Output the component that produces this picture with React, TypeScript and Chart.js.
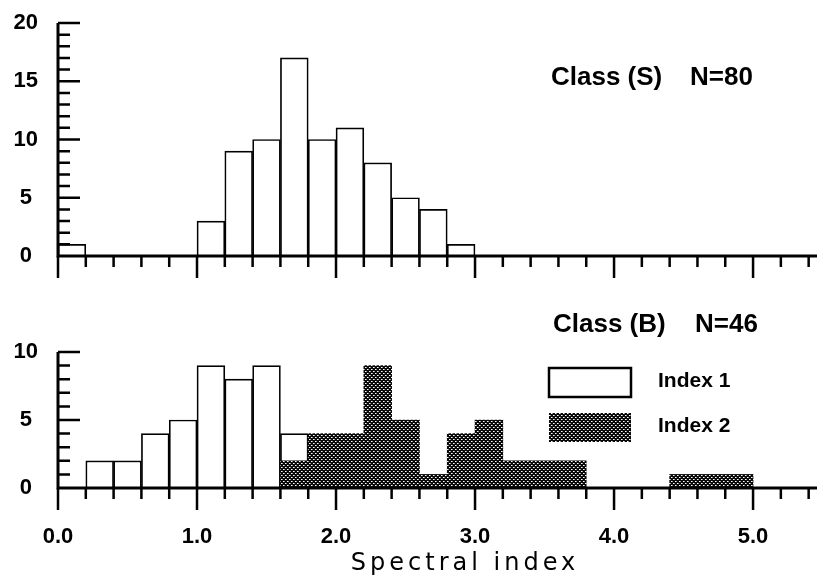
import React, { useEffect, useRef } from 'react';
import { Chart, registerables } from 'chart.js';

Chart.register(...registerables);

// ---- data ----
const binCenters = [0.1, 0.3, 0.5, 0.7, 0.9, 1.1, 1.3, 1.5, 1.7, 1.9, 2.1, 2.3, 2.5, 2.7, 2.9, 3.1, 3.3, 3.5, 3.7, 3.9, 4.1, 4.3, 4.5, 4.7, 4.9, 5.1, 5.3];
const classSCounts = [1, 0, 0, 0, 0, 3, 9, 10, 17, 10, 11, 8, 5, 4, 1, 0, 0, 0, 0, 0, 0, 0, 0, 0, 0, 0, 0];
const classBIndex1 = [0, 2, 2, 4, 5, 9, 8, 9, 4, 0, 0, 0, 0, 0, 0, 0, 0, 0, 0, 0, 0, 0, 0, 0, 0, 0, 0];
const classBIndex2 = [0, 0, 0, 0, 0, 0, 0, 0, 2, 4, 4, 9, 5, 1, 4, 5, 2, 2, 2, 0, 0, 0, 1, 1, 1, 0, 0];
const xTickLabels = ['0.0', '1.0', '2.0', '3.0', '4.0', '5.0'];
const seriesLabels = ['Index 1', 'Index 2'];
const panelTextS = ['Class (S)', 'N=80'];
const panelTextB = ['Class (B)', 'N=46'];
const axisTitle = 'Spectral index';
const xAxisMax = 5.46;
const yMaxTop = 20;
const yMaxBottom = 10;

const tickFont = { family: '"Liberation Sans", Arial, sans-serif', weight: 'bold' as const, size: 22 };
const classFont = 'bold 26px "Liberation Sans", Arial, sans-serif';
const legendFont = 'bold 21px "Liberation Sans", Arial, sans-serif';
const titleFont = '24px "DejaVu Sans", sans-serif';

const isWhole = (v: number) => Math.abs(v - Math.round(v)) < 1e-6;

function makePattern(): CanvasPattern | string {
  const tile = document.createElement('canvas');
  tile.width = 4;
  tile.height = 4;
  const g = tile.getContext('2d')!;
  g.fillStyle = '#0a0a0a';
  g.fillRect(0, 0, 4, 4);
  g.fillStyle = '#fff';
  g.fillRect(1, 1, 1, 1);
  g.fillRect(3, 3, 1, 1);
  g.fillStyle = '#9a9a9a';
  g.fillRect(2, 1, 1, 1);
  g.fillRect(0, 3, 1, 1);
  const p = g.createPattern(tile, 'repeat');
  return p || '#333';
}

const decorPlugin = {
  id: 'decor',
  afterDraw(chart: any, _args: any, opts: any) {
    const { ctx, chartArea: a } = chart;
    const x = chart.scales.x;
    const y = chart.scales.y;
    const y0 = y.getPixelForValue(0);
    const yTop = y.getPixelForValue(y.max);
    ctx.save();
    ctx.strokeStyle = '#000';
    ctx.lineCap = 'butt';
    ctx.lineWidth = 3;
    ctx.beginPath();
    ctx.moveTo(a.left, yTop);
    ctx.lineTo(a.left, y0);
    ctx.moveTo(a.left - 1.5, y0);
    ctx.lineTo(a.right, y0);
    ctx.stroke();
    ctx.lineWidth = 2.5;
    ctx.beginPath();
    for (const t of x.ticks) {
      const px = x.getPixelForValue(t.value);
      const len = isWhole(t.value) ? 22 : 11;
      ctx.moveTo(px, y0);
      ctx.lineTo(px, y0 + len);
    }
    for (const t of y.ticks) {
      if (t.value === 0) continue;
      const py = y.getPixelForValue(t.value);
      const len = t.value % 5 === 0 ? 22 : 12;
      ctx.moveTo(a.left, py);
      ctx.lineTo(a.left + len, py);
    }
    ctx.stroke();

    ctx.fillStyle = '#000';
    for (const lab of opts.texts || []) {
      ctx.font = lab.font;
      ctx.textAlign = lab.align || 'left';
      ctx.textBaseline = 'alphabetic';
      (ctx as any).letterSpacing = lab.spacing || '0px';
      ctx.fillText(lab.text, lab.x, lab.y);
    }
    (ctx as any).letterSpacing = '0px';

    if (opts.legend) {
      const L = opts.legend;
      chart.data.datasets.forEach((ds: any, i: number) => {
        const bx = L.x;
        const by = L.y + i * L.step;
        ctx.fillStyle = ds.backgroundColor;
        ctx.fillRect(bx, by, L.w, L.h);
        if (ds.borderWidth > 0) {
          ctx.lineWidth = 2.5;
          ctx.strokeStyle = ds.borderColor;
          ctx.strokeRect(bx, by, L.w, L.h);
        }
        ctx.fillStyle = '#000';
        ctx.font = legendFont;
        ctx.textAlign = 'left';
        ctx.textBaseline = 'middle';
        ctx.fillText(ds.label, L.textX, by + L.h / 2 - 1);
      });
    }
    ctx.restore();
  },
};

function xScale(showLabels: boolean, height: number) {
  return {
    type: 'linear' as const,
    min: 0,
    max: xAxisMax,
    offset: false,
    grid: { display: false, drawTicks: false },
    border: { display: false },
    ticks: {
      stepSize: 0.2,
      includeBounds: false,
      autoSkip: false,
      maxRotation: 0,
      display: showLabels,
      padding: 36,
      color: '#000',
      font: tickFont,
      callback: (v: any) => (isWhole(Number(v)) ? xTickLabels[Math.round(Number(v))] : ''),
    },
    afterFit: (s: any) => {
      s.height = height;
      s.paddingLeft = 0;
      s.paddingRight = 0;
    },
  };
}

function yScale(max: number) {
  return {
    type: 'linear' as const,
    min: 0,
    max,
    grid: { display: false, drawTicks: false },
    border: { display: false },
    ticks: {
      stepSize: 1,
      autoSkip: false,
      crossAlign: 'center' as const,
      padding: 20,
      color: '#000',
      font: tickFont,
      callback: (v: any) => (Number(v) % 5 === 0 ? String(v) : ''),
    },
    afterFit: (s: any) => {
      s.width = 58;
      s.paddingTop = 0;
      s.paddingBottom = 0;
    },
  };
}

const barCommon = {
  grouped: false,
  categoryPercentage: 1,
  barPercentage: 1,
  borderSkipped: 'start' as const,
};

export default function App() {
  const topRef = useRef<HTMLCanvasElement>(null);
  const botRef = useRef<HTMLCanvasElement>(null);

  useEffect(() => {
    const pattern = makePattern();
    const top = new Chart(topRef.current!, {
      type: 'bar',
      data: {
        datasets: [
          {
            ...barCommon,
            label: 'Class (S)',
            data: binCenters.map((x, i) => ({ x, y: classSCounts[i] })),
            backgroundColor: '#fff',
            borderColor: '#000',
            borderWidth: 1.7,
          },
        ],
      },
      options: {
        responsive: false,
        maintainAspectRatio: false,
        animation: false,
        layout: { padding: { top: 23, left: 0, right: 0, bottom: 0 } },
        scales: { x: xScale(false, 34), y: yScale(yMaxTop) },
        plugins: {
          legend: { display: false },
          tooltip: { enabled: false },
          decor: {
            texts: [
              { text: panelTextS[0], x: 551, y: 85, font: classFont },
              { text: panelTextS[1], x: 690, y: 85, font: classFont },
            ],
          },
        } as any,
      },
      plugins: [decorPlugin],
    } as any);

    const bottom = new Chart(botRef.current!, {
      type: 'bar',
      data: {
        datasets: [
          {
            ...barCommon,
            label: seriesLabels[0],
            data: binCenters.map((x, i) => ({ x, y: classBIndex1[i] })),
            backgroundColor: '#fff',
            borderColor: '#000',
            borderWidth: 1.7,
            order: 1,
          },
          {
            ...barCommon,
            label: seriesLabels[1],
            data: binCenters.map((x, i) => ({ x, y: classBIndex2[i] })),
            backgroundColor: pattern,
            borderColor: '#000',
            borderWidth: 0,
            order: 0,
          },
        ],
      },
      options: {
        responsive: false,
        maintainAspectRatio: false,
        animation: false,
        layout: { padding: { top: 62, left: 0, right: 0, bottom: 0 } },
        scales: { x: xScale(true, 95), y: yScale(yMaxBottom) },
        plugins: {
          legend: { display: false },
          tooltip: { enabled: false },
          decor: {
            texts: [
              { text: panelTextB[0], x: 553, y: 42, font: classFont },
              { text: panelTextB[1], x: 695, y: 42, font: classFont },
              { text: axisTitle, x: 465, y: 280, font: titleFont, align: 'center', spacing: '4px' },
            ],
            legend: { x: 549, y: 78, step: 45, w: 82, h: 29, textX: 658 },
          },
        } as any,
      },
      plugins: [decorPlugin],
    } as any);

    return () => {
      top.destroy();
      bottom.destroy();
    };
  }, []);

  return (
    <div style={{ position: 'absolute', left: 0, top: 0, width: 817, height: 583, background: '#fff' }}>
      <canvas ref={topRef} width={817} height={290} style={{ position: 'absolute', left: 0, top: 0 }} />
      <canvas ref={botRef} width={817} height={293} style={{ position: 'absolute', left: 0, top: 290 }} />
    </div>
  );
}
